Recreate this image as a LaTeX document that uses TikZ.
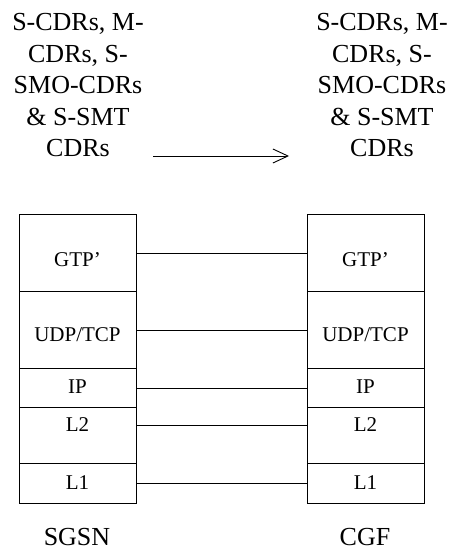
\documentclass[tikz,border=0pt]{standalone}
\usepackage{fontspec}
\setmainfont{Liberation Serif}
\usetikzlibrary{arrows.meta,calc}
\begin{document}
\begin{tikzpicture}[x=1pt,y=-1pt,
  layer/.style={draw,line width=1.3pt,minimum width=117pt,inner sep=0pt,anchor=north west},
  lbl/.style={anchor=base,inner sep=0pt,font=\fontsize{21}{25}\selectfont},
  big/.style={inner sep=0pt,align=center,font=\fontsize{26}{31.5}\selectfont},
  link/.style={line width=0.9pt}]
\useasboundingbox (0,0) rectangle (453,551);
% top texts
\node[big,anchor=north] (tl) at (78,13.5) {S-CDRs, M-\\CDRs, S-\\SMO-CDRs\\\& S-SMT\\CDRs};
\node[big,anchor=north] (tr) at (382,13.5) {S-CDRs, M-\\CDRs, S-\\SMO-CDRs\\\& S-SMT\\CDRs};
\coordinate (a1) at (153,156);
\coordinate (a2) at (289,156);
\draw[line width=0.9pt,-{Straight Barb[length=15pt,width=14pt,line width=0.9pt]}] (a1) -- (a2);
% left stack
\node[layer,minimum height=76.7pt] (sG) at (19,214) {};
\node[layer,minimum height=77.3pt] (sU) at (19,290.7) {};
\node[layer,minimum height=39pt] (sI) at (19,368) {};
\node[layer,minimum height=56pt] (s2) at (19,407) {};
\node[layer,minimum height=40pt] (s1) at (19,463) {};
% right stack
\node[layer,minimum height=76.7pt] (cG) at (307,214) {};
\node[layer,minimum height=77.3pt] (cU) at (307,290.7) {};
\node[layer,minimum height=39pt] (cI) at (307,368) {};
\node[layer,minimum height=56pt] (c2) at (307,407) {};
\node[layer,minimum height=40pt] (c1) at (307,463) {};
% labels
\node[lbl] (lsG) at (77.5,266.7) {GTP’};
\node[lbl] (lsU) at (77.5,341.7) {UDP/TCP};
\node[lbl] (lsI) at (77.5,393.5) {IP};
\node[lbl] (ls2) at (77.5,431.7) {L2};
\node[lbl] (ls1) at (77.5,489.5) {L1};
\node[lbl] (lcG) at (365.5,266.7) {GTP’};
\node[lbl] (lcU) at (365.5,341.7) {UDP/TCP};
\node[lbl] (lcI) at (365.5,393.5) {IP};
\node[lbl] (lc2) at (365.5,431.7) {L2};
\node[lbl] (lc1) at (365.5,489.5) {L1};
% bottom names
\node[big,anchor=base] (sgsn) at (77,545) {SGSN};
\node[big,anchor=base] (cgf) at (365,545) {CGF};
% connectors
\draw[link] (sG.east) -- (cG.west);
\draw[link] (sU.east) -- (cU.west);
\draw[link] (sI.east) -- (cI.west);
\draw[link] ($(s2.north east)!0.32!(s2.south east)$) -- ($(c2.north west)!0.32!(c2.south west)$);
\draw[link] (s1.east) -- (c1.west);
\end{tikzpicture}
\end{document}
